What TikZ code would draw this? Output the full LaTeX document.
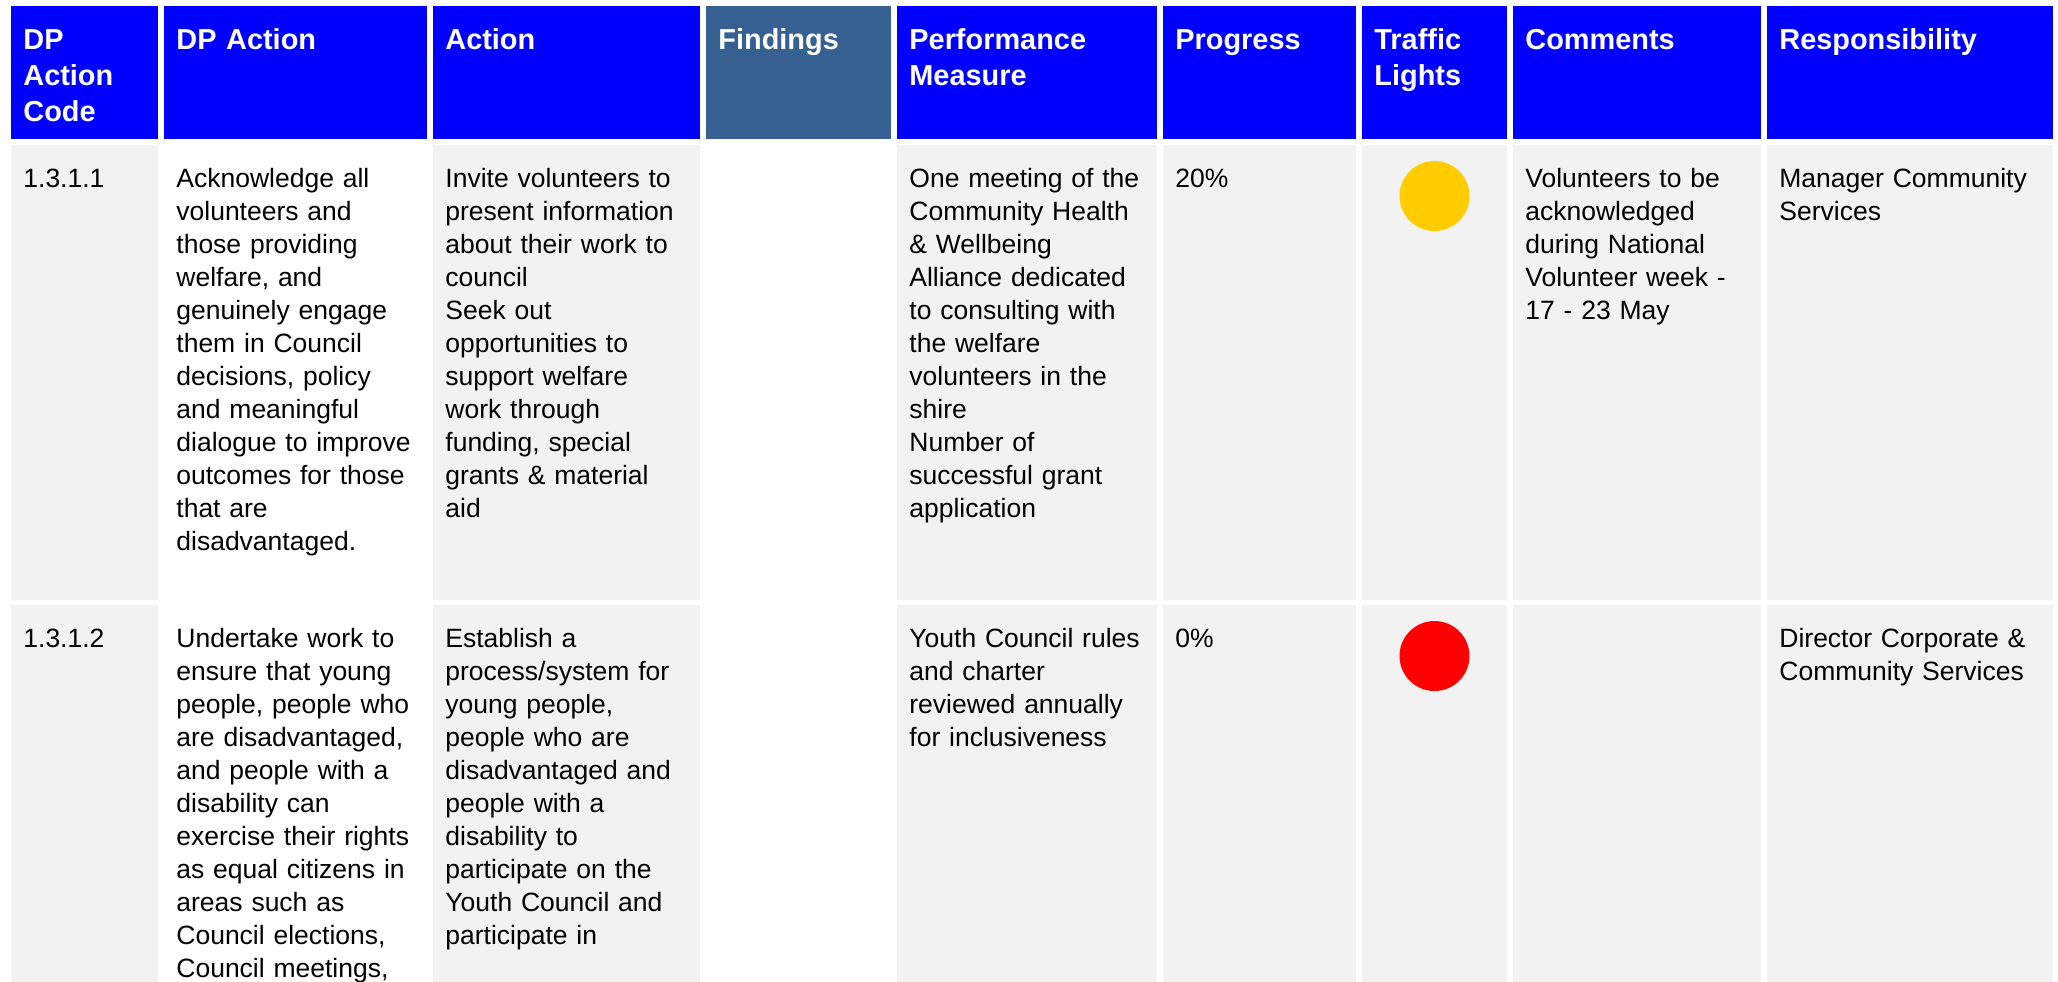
\documentclass[tikz,border=0pt]{standalone}
\usepackage{fontspec}
\setmainfont{Liberation Sans}
\usetikzlibrary{positioning}
\definecolor{headblue}{HTML}{0000FF}
\definecolor{findblue}{HTML}{366092}
\definecolor{cellgrey}{HTML}{F2F2F2}
\definecolor{amber}{HTML}{FFCC00}
\definecolor{alarm}{HTML}{FF0000}

\begin{document}
\begin{tikzpicture}[x=0.5pt,y=-0.5pt,
  headtext/.style={anchor=north west,inner sep=0pt,align=left,text width=140pt,text=white,
    font=\fontsize{14.45}{18}\selectfont\bfseries,
    execute at begin node={\rule{0pt}{21.65pt}}},
  celltext/.style={anchor=north west,inner sep=0pt,align=left,text width=140pt,
    font=\fontsize{13.25}{16.54}\selectfont,
    execute at begin node={\rule{0pt}{20.85pt}}},
  light/.style={circle,inner sep=0pt,minimum size=35pt}]
  \useasboundingbox (0,0) rectangle (2058,981);
  \clip (0,0) rectangle (2058,981);

  % Header row
  \foreach \l/\r/\c/\t [count=\i] in {
      11/158/headblue/{DP\\Action\\Code},
      164/427/headblue/{DP Action},
      433/700/headblue/{Action},
      706/891/findblue/{Findings},
      897/1157/headblue/{Performance\\Measure},
      1163/1356/headblue/{Progress},
      1362/1507/headblue/{Traffic\\Lights},
      1513/1761/headblue/{Comments},
      1767/2053/headblue/{Responsibility}}
  {
    \fill[\c] (\l,6) rectangle (\r,139);
    \node[headtext] (h\i) at (\l+12,6) {\t};
  }

  % Grey cells (DP Action and Findings stay white)
  \foreach \l/\r in {11/158,433/700,897/1157,1163/1356,1362/1507,1513/1761,1767/2053}
  {
    \fill[cellgrey] (\l,145) rectangle (\r,600);
    \fill[cellgrey] (\l,605) rectangle (\r,990);
  }

  % Row 1.3.1.1
  \node[celltext] (code1) at (23,145) {1.3.1.1};
  \node[celltext] (dpact1) at (176,145) {Acknowledge all\\volunteers and\\those providing\\welfare, and\\genuinely engage\\them in Council\\decisions, policy\\and meaningful\\dialogue to improve\\outcomes for those\\that are\\disadvantaged.};
  \node[celltext] (act1) at (445,145) {Invite volunteers to\\present information\\about their work to\\council\\Seek out\\opportunities to\\support welfare\\work through\\funding, special\\grants \& material\\aid};
  \node[celltext] (measure1) at (909,145) {One meeting of the\\Community Health\\\& Wellbeing\\Alliance dedicated\\to consulting with\\the welfare\\volunteers in the\\shire\\Number of\\successful grant\\application};
  \node[celltext] (prog1) at (1175,145) {20\%};
  \node[light,fill=amber] (light1) at (1434.5,196) {};
  \node[celltext] (comment1) at (1525,145) {Volunteers to be\\acknowledged\\during National\\Volunteer week -\\17 - 23 May};
  \node[celltext] (resp1) at (1779,145) {Manager Community\\Services};

  % Row 1.3.1.2
  \node[celltext] (code2) at (23,605) {1.3.1.2};
  \node[celltext] (dpact2) at (176,605) {Undertake work to\\ensure that young\\people, people who\\are disadvantaged,\\and people with a\\disability can\\exercise their rights\\as equal citizens in\\areas such as\\Council elections,\\Council meetings,};
  \node[celltext] (act2) at (445,605) {Establish a\\process/system for\\young people,\\people who are\\disadvantaged and\\people with a\\disability to\\participate on the\\Youth Council and\\participate in};
  \node[celltext] (measure2) at (909,605) {Youth Council rules\\and charter\\reviewed annually\\for inclusiveness};
  \node[celltext] (prog2) at (1175,605) {0\%};
  \node[light,fill=alarm] (light2) at (1434.5,656) {};
  \node[celltext] (resp2) at (1779,605) {Director Corporate \&\\Community Services};
\end{tikzpicture}
\end{document}
